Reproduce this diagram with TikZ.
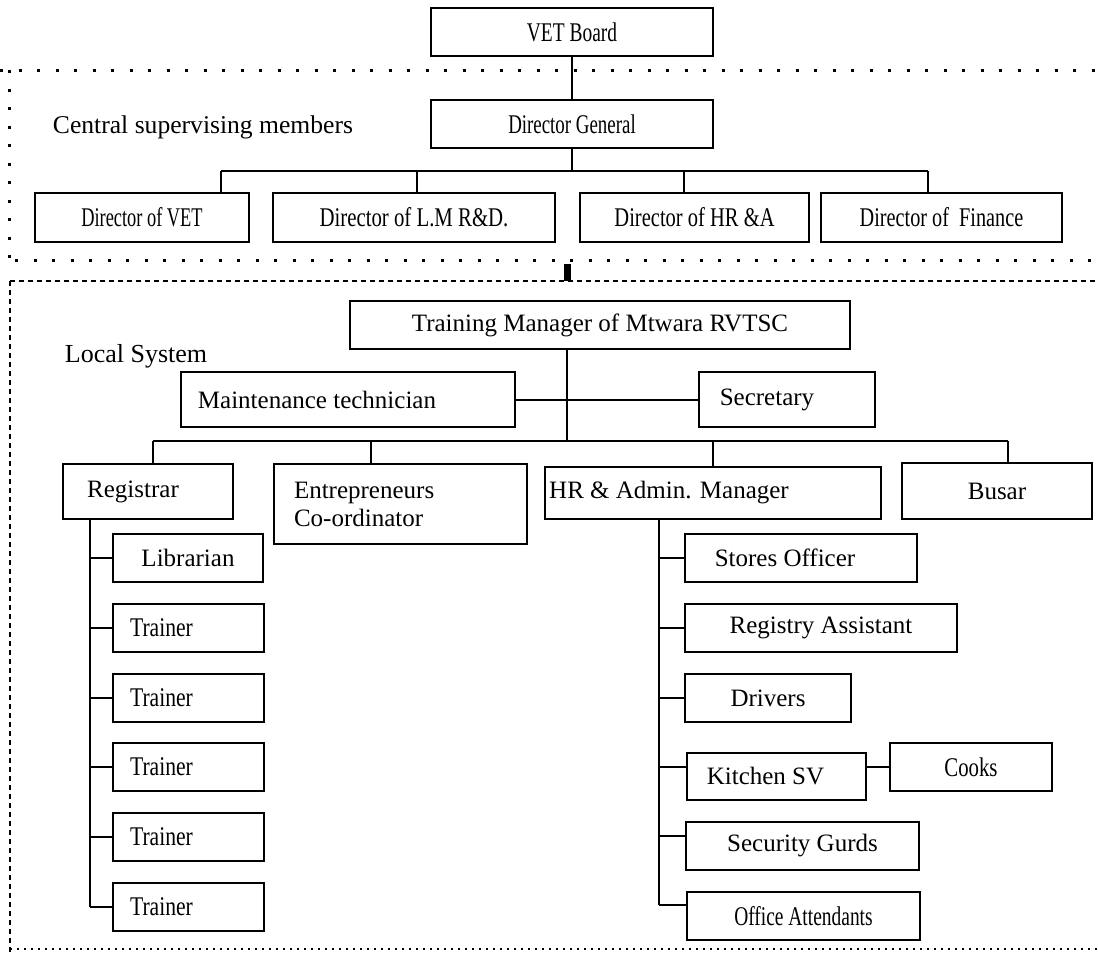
\documentclass[tikz,border=0pt]{standalone}
\usepackage{fontspec}
\setmainfont{Liberation Serif}
\usepackage{graphicx}
\newcommand\cond[2]{\scalebox{#1}[1]{\fontsize{27}{30}\selectfont #2}}
\begin{document}
\begin{tikzpicture}[x=1pt,y=-1pt,
  box/.style={draw, line width=2pt, rectangle, inner sep=0pt, font=\fontsize{25}{28}\selectfont},
  conn/.style={line width=2pt},
  lab/.style={font=\fontsize{25}{28}\selectfont, inner sep=0pt},
  cdot/.style={line width=3pt, dash pattern=on 3pt off 15.5pt},
  ldash/.style={line width=2.5pt, dash pattern=on 5pt off 4pt},
  ldot/.style={line width=1.5pt, dash pattern=on 2pt off 5pt}]
\useasboundingbox[fill=white] (0,0) rectangle (1098,953);

% frames
\draw[cdot] (0,70) -- (1098,70);
\draw[cdot] (9,70) -- (9,260);
\draw[cdot] (15,260) -- (1098,260);
\draw[ldash] (10,281) -- (1098,281);
\draw[ldash] (10,281) -- (10,953);
\draw[ldot] (10,949) -- (1098,949);
\fill (564,264) rectangle (571,281);

% central nodes
\node[box, minimum width=282pt, minimum height=48pt] (vet) at (572,32) {\cond{0.72}{VET Board}};
\node[box, minimum width=282pt, minimum height=48pt] (dg) at (572,124) {\cond{0.70}{Director General}};
\node[lab, font=\fontsize{25.6}{28}\selectfont] (csm) at (203,127) {Central supervising members};
\node[box, minimum width=214pt, minimum height=49pt] (dvet) at (142,217.5) {\cond{0.68}{Director of VET}};
\node[box, minimum width=282pt, minimum height=49pt] (dlm) at (414,217.5) {\cond{0.77}{Director of L.M R\&D.}};
\node[box, minimum width=229pt, minimum height=49pt] (dhr) at (694.5,217.5) {\cond{0.76}{Director of HR \&A}};
\node[box, minimum width=241pt, minimum height=49pt] (dfin) at (941.5,217.5) {\cond{0.75}{Director of \ Finance}};

\coordinate (db) at (572,171);
\coordinate (b1) at (221,171);
\coordinate (b2) at (417,171);
\coordinate (b3) at (684,171);
\coordinate (b4) at (928,171);
\draw[conn] (vet) -- (dg);
\draw[conn] (dg.south) -- (db);
\draw[conn] (b1) -- (b4);
\draw[conn] (b1) -- (b1 |- dvet.north);
\draw[conn] (b2) -- (b2 |- dlm.north);
\draw[conn] (b3) -- (b3 |- dhr.north);
\draw[conn] (b4) -- (b4 |- dfin.north);

% local nodes
\node[box, minimum width=500pt, minimum height=48pt] (tm) at (600,325) {Training Manager of Mtwara RVTSC};
\node[lab, font=\fontsize{26}{28}\selectfont] (ls) at (136,356) {Local System};
\node[box, minimum width=334pt, minimum height=55pt, label={[lab,xshift=-31pt]center:Maintenance technician}] (mt) at (348,399.5) {};
\node[box, minimum width=176pt, minimum height=55pt, label={[lab,xshift=-20pt]center:Secretary}] (sec) at (787,399.5) {};
\node[box, minimum width=170pt, minimum height=55pt, label={[lab,xshift=-15pt]center:Registrar}] (reg) at (148,491.5) {};
\node[box, minimum height=80pt, align=left, text width=213pt, inner xsep=20pt] (ent) at (400.5,504) {Entrepreneurs\\Co-ordinator};
\node[box, minimum width=336pt, minimum height=52pt, label={[lab,xshift=-44pt]center:HR \& Admin. Manager}] (hra) at (713,493) {};
\node[box, minimum width=190pt, minimum height=56pt] (bus) at (997,491) {Busar};

\node[box, minimum width=150pt, minimum height=48pt] (lib) at (188,558) {Librarian};
\node[box, minimum width=151pt, minimum height=48pt, label={[lab,xshift=-27pt]center:\cond{0.8}{Trainer}}] (tr1) at (188.5,628) {};
\node[box, minimum width=151pt, minimum height=48pt, label={[lab,xshift=-27pt]center:\cond{0.8}{Trainer}}] (tr2) at (188.5,698) {};
\node[box, minimum width=151pt, minimum height=48pt, label={[lab,xshift=-27pt]center:\cond{0.8}{Trainer}}] (tr3) at (188.5,767) {};
\node[box, minimum width=151pt, minimum height=48pt, label={[lab,xshift=-27pt]center:\cond{0.8}{Trainer}}] (tr4) at (188.5,837) {};
\node[box, minimum width=151pt, minimum height=48pt, label={[lab,xshift=-27pt]center:\cond{0.8}{Trainer}}] (tr5) at (188.5,906.5) {};

\node[box, minimum width=232pt, minimum height=48pt, label={[lab,xshift=-16pt]center:Stores Officer}] (so) at (801,558) {};
\node[box, minimum width=272pt, minimum height=48pt] (ra) at (821,628) {Registry Assistant};
\node[box, minimum width=166pt, minimum height=48pt] (dr) at (768,698) {Drivers};
\node[box, minimum width=179pt, minimum height=47pt, label={[lab,xshift=-11pt]center:Kitchen SV}] (ksv) at (776.5,776.5) {};
\node[box, minimum width=162pt, minimum height=48pt] (ck) at (971,767) {\cond{0.77}{Cooks}};
\node[box, minimum width=233pt, minimum height=48pt] (sg) at (802.5,846) {Security Gurds};
\node[box, minimum width=233pt, minimum height=48pt] (oa) at (803.5,916) {\cond{0.72}{Office Attendants}};

% local connectors
\coordinate (lb) at (567,441);
\coordinate (lb1) at (153,441);
\coordinate (lb2) at (371,441);
\coordinate (lb3) at (713,441);
\coordinate (lb4) at (1008,441);
\draw[conn] (tm.south -| lb) -- (lb);
\draw[conn] (mt.east) -- (sec.west);
\draw[conn] (lb1) -- (lb4);
\draw[conn] (lb1) -- (lb1 |- reg.north);
\draw[conn] (lb2) -- (lb2 |- ent.north);
\draw[conn] (lb3) -- (lb3 |- hra.north);
\draw[conn] (lb4) -- (lb4 |- bus.north);

\coordinate (rv) at (90,907);
\draw[conn] (reg.south -| rv) -- (rv);
\draw[conn] (lib.west -| rv) -- (lib.west);
\draw[conn] (tr1.west -| rv) -- (tr1.west);
\draw[conn] (tr2.west -| rv) -- (tr2.west);
\draw[conn] (tr3.west -| rv) -- (tr3.west);
\draw[conn] (tr4.west -| rv) -- (tr4.west);
\draw[conn] (rv) -- (rv -| tr5.west);

\coordinate (hv) at (659,905);
\coordinate (sgb) at (659,836);
\draw[conn] (hra.south -| hv) -- (hv);
\draw[conn] (so.west -| hv) -- (so.west);
\draw[conn] (ra.west -| hv) -- (ra.west);
\draw[conn] (dr.west -| hv) -- (dr.west);
\draw[conn] (hv |- ck.west) -- (ksv.west |- ck.west);
\draw[conn] (ksv.east |- ck.west) -- (ck.west);
\draw[conn] (sgb) -- (sgb -| sg.west);
\draw[conn] (hv) -- (hv -| oa.west);
\end{tikzpicture}
\end{document}
